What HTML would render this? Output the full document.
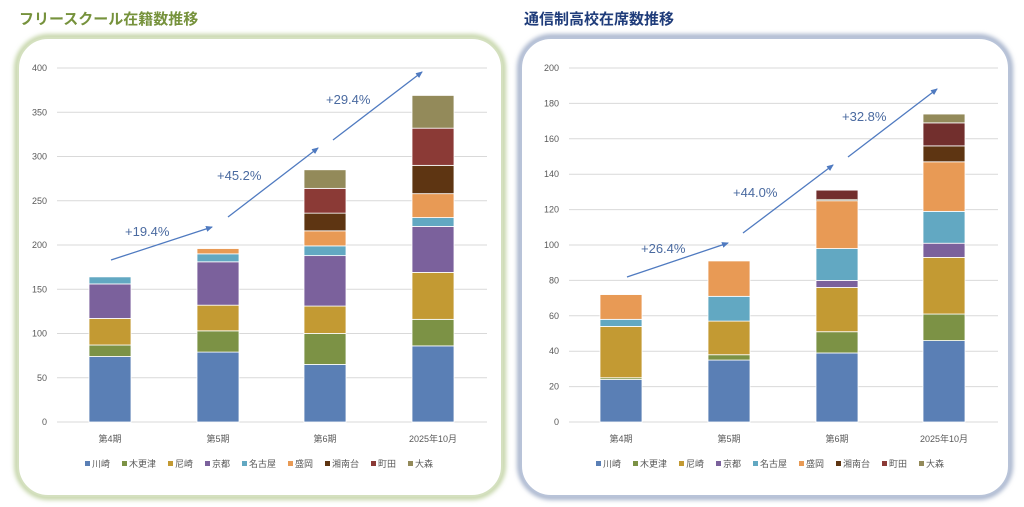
<!DOCTYPE html>
<html><head><meta charset="utf-8"><style>
body{margin:0;width:1024px;height:507px;background:#fff;overflow:hidden;font-family:"Liberation Sans","Noto Sans CJK JP",sans-serif}
svg{position:absolute;left:0;top:0}
</style></head><body>
<svg id="s" width="1024" height="507" viewBox="0 0 1024 507" font-family="Liberation Sans, Noto Sans CJK JP, sans-serif">
<defs>
<filter id="bl" x="-5%" y="-5%" width="110%" height="110%"><feGaussianBlur stdDeviation="2"/></filter>
<marker id="ar" markerWidth="8" markerHeight="8" refX="6" refY="3" orient="auto" markerUnits="userSpaceOnUse"><path d="M0,0 L7,3 L0,6 z" fill="#4f7ac0"/></marker>
</defs>
<rect x="17" y="37" width="486" height="460" rx="32" fill="none" stroke="#c6d6aa" stroke-width="6" filter="url(#bl)"/>
<rect x="18" y="38" width="484" height="458" rx="30" fill="#fff" stroke="#d4e0bf" stroke-width="2"/>
<rect x="520" y="37" width="490" height="460" rx="32" fill="none" stroke="#a9b5cd" stroke-width="6" filter="url(#bl)"/>
<rect x="521" y="38" width="488" height="458" rx="30" fill="#fff" stroke="#b8c3d8" stroke-width="2"/>
<text x="19" y="24" font-size="15" font-weight="bold" fill="#76923c">フリースクール在籍数推移</text>
<text x="524" y="24" font-size="15" font-weight="bold" fill="#1f3c7a">通信制高校在席数推移</text>
<g id="g"></g>
<g font-size="9" fill="#595959" text-anchor="end" id="yl"></g>
<g font-size="9" fill="#595959" text-anchor="middle">
<text x="110" y="442">第4期</text><text x="218" y="442">第5期</text><text x="325" y="442">第6期</text><text x="433" y="442">2025年10月</text>
<text x="621" y="442">第4期</text><text x="729" y="442">第5期</text><text x="837" y="442">第6期</text><text x="944" y="442">2025年10月</text>
</g>
<g id="lg" font-size="9" fill="#595959"></g>
<g stroke="#4f7ac0" stroke-width="1.3" marker-end="url(#ar)">
<line x1="111" y1="260" x2="212" y2="227"/><line x1="228" y1="217" x2="318" y2="148"/><line x1="333" y1="140" x2="422" y2="72"/>
<line x1="627" y1="277" x2="728" y2="243"/><line x1="743" y1="233" x2="833" y2="165"/><line x1="848" y1="157" x2="937" y2="89"/>
</g>
<g font-size="13" fill="#4a6aa0">
<text x="125" y="236">+19.4%</text><text x="217" y="180">+45.2%</text><text x="326" y="104">+29.4%</text>
<text x="641" y="253">+26.4%</text><text x="733" y="197">+44.0%</text><text x="842" y="121">+32.8%</text>
</g>
</svg>
<script>
var C=["#5a7fb5","#7c9245","#c39a33","#7b619c","#62a8c2","#e89a55","#5e3512","#8b3a36","#938a5a"];
var names=["川崎","木更津","尼崎","京都","名古屋","盛岡","湘南台","町田","大森"];
var g=document.getElementById('g'),yl=document.getElementById('yl'),lg=document.getElementById('lg');
var ns="http://www.w3.org/2000/svg";
function el(t,a,p){var e=document.createElementNS(ns,t);for(var k in a)e.setAttribute(k,a[k]);(p||g).appendChild(e);return e}
function chart(x0,x1,max,step,lx,cx,data,col8){
 var k=354/max;
 for(var v=0;v<=max;v+=step){var y=422-v*k;el('line',{x1:x0,x2:x1,y1:y,y2:y,stroke:'#d9d9d9','stroke-width':1});var t=el('text',{x:lx,y:y+3},yl);t.textContent=v;}
 data.forEach(function(b,i){var prev=0;b.forEach(function(v,j){if(v>prev){var c=C[j];if(j==7&&col8)c=col8;el('rect',{x:cx[i]-21,y:422-v*k,width:42,height:(v-prev)*k,fill:c,stroke:'#fff','stroke-width':0.8});}prev=Math.max(prev,v);});});
}
chart(57,487,400,50,47,[110,218,325,433],[[74,87,117,156,164],[79,103,132,181,190,196],[65,100,131,188,199,216,236,264,285],[86,116,169,221,231,258,290,332,369]]);
chart(569,998,200,20,559,[621,729,837,944],[[24,25,54,54,58,72],[35,38,57,57,71,91],[39,51,76,80,98,125,125,131,131],[46,61,93,101,119,147,156,169,174]],"#722f2d");
// tiny gray sliver in 第6期 right
el('rect',{x:816,y:422-126*1.77,width:42,height:1.77,fill:'#c9c0b0'});
function legend(x){names.forEach(function(n,i){el('rect',{x:x,y:461,width:5,height:5,fill:C[i]},lg);var t=el('text',{x:x+7,y:467},lg);t.textContent=n;x+=7+n.length*9+12;});}
legend(85);legend(596);
</script>
</body></html>
